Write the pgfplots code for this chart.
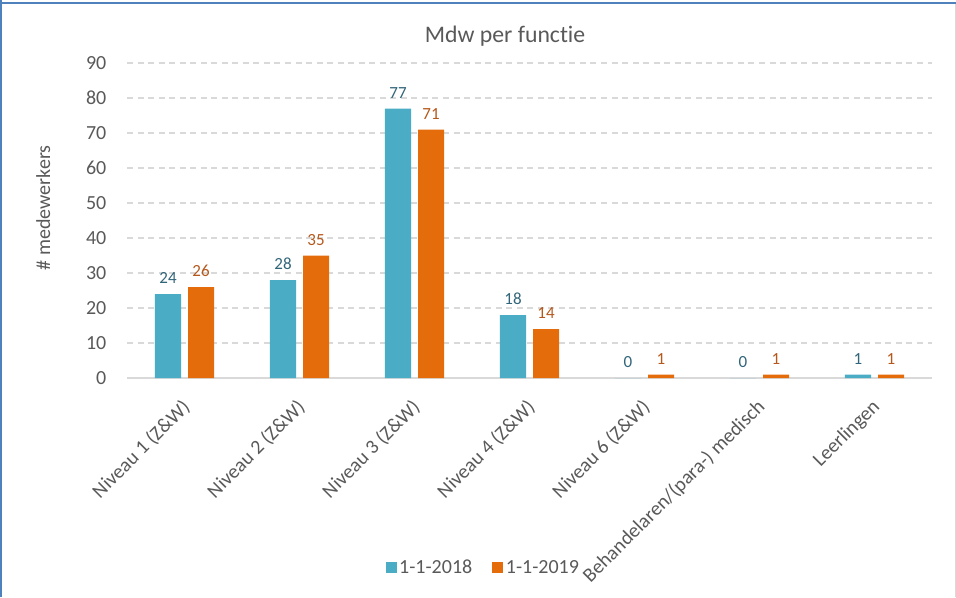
\documentclass[border=0pt]{standalone}
\usepackage{fontspec}
\setmainfont{Carlito}[Ligatures=NoCommon]
\usepackage{pgfplots}
\usepackage{pgfplotstable}
\pgfplotsset{compat=1.18}

\definecolor{teal18}{HTML}{4BACC6}
\definecolor{oranje19}{HTML}{E46C0A}
\definecolor{tealtxt}{HTML}{31657A}
\definecolor{oranjetxt}{HTML}{B5581C}
\definecolor{txt}{HTML}{595959}
\definecolor{rooster}{HTML}{D9D9D9}
\definecolor{kader}{HTML}{4F81BD}

% aantal medewerkers per functie
\pgfplotstableread{
x jr2018 jr2019
0 24 26
1 28 35
2 77 71
3 18 14
4 0 1
5 0 1
6 1 1
}\mdw

\begin{document}
\begin{tikzpicture}
    % 1px = 0.75pt, plaatje 956 x 597 px
    \path[use as bounding box] (0,0) rectangle (717pt,447.75pt);
    \draw[kader, line width=1.5pt] (0,445.5pt) -- (717pt,445.5pt);
    \draw[kader, line width=1.2pt] (0.75pt,0) -- (0.75pt,447.75pt);
    \draw[rooster, line width=0.8pt] (716.4pt,0) -- (716.4pt,445pt);

    \begin{axis}[
        at={(95.25pt,164.25pt)},
        anchor=south west,
        scale only axis,
        width=603.75pt,
        height=236.25pt,
        xmin=-0.5, xmax=6.5,
        ymin=0, ymax=90,
        ytick={0,10,...,90},
        xtick=data,
        xticklabels={Niveau 1 (Z\&W),Niveau 2 (Z\&W),Niveau 3 (Z\&W),Niveau 4 (Z\&W),Niveau 6 (Z\&W),Behandelaren/(para-) medisch,Leerlingen},
        major tick length=0pt,
        axis x line*=bottom,
        axis y line*=left,
        x axis line style={draw=rooster, line width=1.2pt, -},
        y axis line style={draw=none},
        ymajorgrids,
        grid style={draw=rooster, line width=1pt, dash pattern=on 4.5pt off 3.4pt},
        /pgf/number format/assume math mode=true,
        tick label style={font=\fontsize{15}{18}\selectfont, text=txt},
        yticklabel style={xshift=-12pt},
        xticklabel style={rotate=45, anchor=east, xshift=-9pt, yshift=-15pt},
        ylabel={\# medewerkers},
        ylabel style={at={(axis description cs:-0.104,0.54)}, anchor=center, rotate=0, font=\fontsize{15}{18}\selectfont, text=txt},
        title={Mdw per functie},
        title style={at={(axis description cs:0.4696,1.06)}, anchor=center, font=\fontsize{17.8}{21}\selectfont, text=txt},
        ybar,
        bar width=19.5pt,
        nodes near coords,
        nodes near coords style={font=\fontsize{12.75}{15}\selectfont, anchor=south, yshift=4pt},
        legend columns=2,
        legend style={at={(axis description cs:0.443,-0.603)}, anchor=center, draw=none, fill=none,
            font=\fontsize{15}{18}\selectfont, text=txt,
            /tikz/every even column/.append style={column sep=13pt}},
        legend image code/.code={\fill[#1] (0pt,-3.8pt) rectangle (8.25pt,4.4pt);},
    ]
    \addplot[fill=teal18, draw=none, bar shift=-12.375pt,
        nodes near coords style={text=tealtxt}] table[x=x, y=jr2018] {\mdw};
    \addplot[fill=oranje19, draw=none, bar shift=12.375pt,
        nodes near coords style={text=oranjetxt}] table[x=x, y=jr2019] {\mdw};
    \legend{1-1-2018, 1-1-2019}
    \end{axis}
\end{tikzpicture}
\end{document}
